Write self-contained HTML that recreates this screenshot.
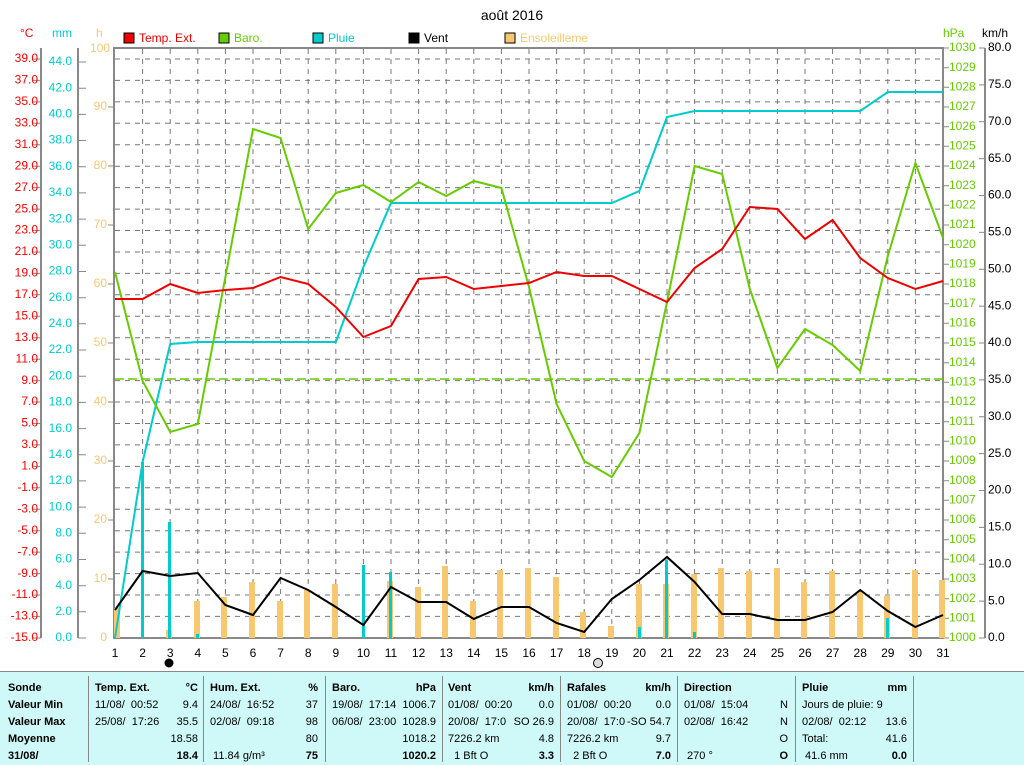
<!DOCTYPE html>
<html><head><meta charset="utf-8"><style>
body{margin:0;background:#fff;width:1024px;height:764px;overflow:hidden;font-family:"Liberation Sans",sans-serif}
svg text{font-family:"Liberation Sans",sans-serif;font-size:12px}
.tb{position:absolute;left:0;top:671px;width:1024px;height:93px;background:#cff8f8;border-top:1px solid #888;font-size:11px}
.c{position:absolute;top:8px;line-height:17px;white-space:pre}
.sep{position:absolute;top:4px;width:1px;height:86px;background:#888}
b{font-weight:bold}
</style></head><body>
<svg width="1024" height="672" style="position:absolute;left:0;top:0">
<text x="512" y="20" text-anchor="middle" style="font-size:14px">août 2016</text>
<g>
<text x="20" y="37" fill="#f00">°C</text><text x="52" y="37" fill="#0cc">mm</text><text x="96" y="37" fill="#f8c870">h</text>
<text x="943" y="37" fill="#6c0">hPa</text><text x="982" y="37" fill="#000">km/h</text>
</g>
<rect x="124" y="33" width="10" height="10" fill="#e00" stroke="#000"/><text x="139" y="42" fill="#e00">Temp. Ext.</text>
<rect x="219" y="33" width="10" height="10" fill="#6c0" stroke="#000"/><text x="234" y="42" fill="#6c0">Baro.</text>
<rect x="313" y="33" width="10" height="10" fill="#0cc" stroke="#000"/><text x="328" y="42" fill="#0cc">Pluie</text>
<rect x="409" y="33" width="10" height="10" fill="#000" stroke="#000"/><text x="424" y="42">Vent</text>
<rect x="505" y="33" width="10" height="10" fill="#f8c870" stroke="#000"/><text x="520" y="42" fill="#f8c870">Ensoleilleme</text>
<g stroke="#888" stroke-width="2" fill="none">
<line x1="41" y1="48" x2="41" y2="638"/><line x1="78" y1="48" x2="78" y2="638"/>
<line x1="985" y1="48" x2="985" y2="638"/>
<rect x="114" y="48" width="829" height="590"/>
</g>
<g stroke="#888" stroke-width="1">
<path d="M33 59h8M33 80.4h8M33 101.9h8M33 123.3h8M33 144.8h8M33 166.2h8M33 187.6h8M33 209.1h8M33 230.5h8M33 252h8M33 273.4h8M33 294.8h8M33 316.3h8M33 337.7h8M33 359.2h8M33 380.6h8M33 402h8M33 423.5h8M33 444.9h8M33 466.4h8M33 487.8h8M33 509.2h8M33 530.7h8M33 552.1h8M33 573.6h8M33 595h8M33 616.4h8M33 638h8"/>
<path d="M78 62h8M78 88.2h8M78 114.4h8M78 140.5h8M78 166.7h8M78 192.9h8M78 219.1h8M78 245.3h8M78 271.5h8M78 297.7h8M78 323.8h8M78 350h8M78 376.2h8M78 402.4h8M78 428.6h8M78 454.8h8M78 480.9h8M78 507.1h8M78 533.3h8M78 559.5h8M78 585.7h8M78 611.8h8M78 638h8"/>
<path d="M943 48h6M943 67.7h6M943 87.3h6M943 107h6M943 126.7h6M943 146.3h6M943 166h6M943 185.7h6M943 205.3h6M943 225h6M943 244.7h6M943 264.3h6M943 284h6M943 303.7h6M943 323.3h6M943 343h6M943 362.7h6M943 382.3h6M943 402h6M943 421.7h6M943 441.3h6M943 461h6M943 480.7h6M943 500.3h6M943 520h6M943 539.7h6M943 559.3h6M943 579h6M943 598.7h6M943 618.3h6M943 638h6"/>
<path d="M979 48h6M979 84.9h6M979 121.8h6M979 158.6h6M979 195.5h6M979 232.4h6M979 269.3h6M979 306.1h6M979 343h6M979 379.9h6M979 416.8h6M979 453.6h6M979 490.5h6M979 527.4h6M979 564.3h6M979 601.1h6M979 638h6"/>
<path d="M108 107h6M108 166h6M108 225h6M108 284h6M108 343h6M108 402h6M108 461h6M108 520h6M108 579h6"/>
</g>
<g stroke="#777" stroke-width="1" stroke-dasharray="5,5">
<path d="M115 59h828M115 80.4h828M115 101.9h828M115 123.3h828M115 144.8h828M115 166.2h828M115 187.6h828M115 209.1h828M115 230.5h828M115 252h828M115 273.4h828M115 294.8h828M115 316.3h828M115 337.7h828M115 359.2h828M115 380.6h828M115 402h828M115 423.5h828M115 444.9h828M115 466.4h828M115 487.8h828M115 509.2h828M115 530.7h828M115 552.1h828M115 573.6h828M115 595h828M115 616.4h828"/>
<path d="M142.6 49v589M170.2 49v589M197.8 49v589M225.4 49v589M253 49v589M280.6 49v589M308.2 49v589M335.8 49v589M363.4 49v589M391 49v589M418.6 49v589M446.2 49v589M473.8 49v589M501.4 49v589M529 49v589M556.6 49v589M584.2 49v589M611.8 49v589M639.4 49v589M667 49v589M694.6 49v589M722.2 49v589M749.8 49v589M777.4 49v589M805 49v589M832.6 49v589M860.2 49v589M887.8 49v589M915.4 49v589"/>
</g>
<g fill="#f00" text-anchor="end" dominant-baseline="middle">
<text x="38" y="59">39.0</text><text x="38" y="80.4">37.0</text><text x="38" y="101.9">35.0</text><text x="38" y="123.3">33.0</text><text x="38" y="144.8">31.0</text><text x="38" y="166.2">29.0</text><text x="38" y="187.6">27.0</text><text x="38" y="209.1">25.0</text><text x="38" y="230.5">23.0</text><text x="38" y="252">21.0</text><text x="38" y="273.4">19.0</text><text x="38" y="294.8">17.0</text><text x="38" y="316.3">15.0</text><text x="38" y="337.7">13.0</text><text x="38" y="359.2">11.0</text><text x="38" y="380.6">9.0</text><text x="38" y="402">7.0</text><text x="38" y="423.5">5.0</text><text x="38" y="444.9">3.0</text><text x="38" y="466.4">1.0</text><text x="38" y="487.8">-1.0</text><text x="38" y="509.2">-3.0</text><text x="38" y="530.7">-5.0</text><text x="38" y="552.1">-7.0</text><text x="38" y="573.6">-9.0</text><text x="38" y="595">-11.0</text><text x="38" y="616.4">-13.0</text><text x="38" y="638">-15.0</text>
</g>
<g fill="#0cc" text-anchor="end" dominant-baseline="middle">
<text x="72" y="62">44.0</text><text x="72" y="88.2">42.0</text><text x="72" y="114.4">40.0</text><text x="72" y="140.5">38.0</text><text x="72" y="166.7">36.0</text><text x="72" y="192.9">34.0</text><text x="72" y="219.1">32.0</text><text x="72" y="245.3">30.0</text><text x="72" y="271.5">28.0</text><text x="72" y="297.7">26.0</text><text x="72" y="323.8">24.0</text><text x="72" y="350">22.0</text><text x="72" y="376.2">20.0</text><text x="72" y="402.4">18.0</text><text x="72" y="428.6">16.0</text><text x="72" y="454.8">14.0</text><text x="72" y="480.9">12.0</text><text x="72" y="507.1">10.0</text><text x="72" y="533.3">8.0</text><text x="72" y="559.5">6.0</text><text x="72" y="585.7">4.0</text><text x="72" y="611.8">2.0</text><text x="72" y="638">0.0</text>
</g>
<g fill="#f8c870" text-anchor="end" dominant-baseline="middle">
<text x="110" y="49">100</text><text x="107" y="107">90</text><text x="107" y="166">80</text><text x="107" y="225">70</text><text x="107" y="284">60</text><text x="107" y="343">50</text><text x="107" y="402">40</text><text x="107" y="461">30</text><text x="107" y="520">20</text><text x="107" y="579">10</text><text x="107" y="638">0</text>
</g>
<g fill="#6c0" dominant-baseline="middle">
<text x="949" y="48">1030</text><text x="949" y="67.7">1029</text><text x="949" y="87.3">1028</text><text x="949" y="107">1027</text><text x="949" y="126.7">1026</text><text x="949" y="146.3">1025</text><text x="949" y="166">1024</text><text x="949" y="185.7">1023</text><text x="949" y="205.3">1022</text><text x="949" y="225">1021</text><text x="949" y="244.7">1020</text><text x="949" y="264.3">1019</text><text x="949" y="284">1018</text><text x="949" y="303.7">1017</text><text x="949" y="323.3">1016</text><text x="949" y="343">1015</text><text x="949" y="362.7">1014</text><text x="949" y="382.3">1013</text><text x="949" y="402">1012</text><text x="949" y="421.7">1011</text><text x="949" y="441.3">1010</text><text x="949" y="461">1009</text><text x="949" y="480.7">1008</text><text x="949" y="500.3">1007</text><text x="949" y="520">1006</text><text x="949" y="539.7">1005</text><text x="949" y="559.3">1004</text><text x="949" y="579">1003</text><text x="949" y="598.7">1002</text><text x="949" y="618.3">1001</text><text x="949" y="638">1000</text>
</g>
<g fill="#000" dominant-baseline="middle">
<text x="988" y="48">80.0</text><text x="988" y="84.9">75.0</text><text x="988" y="121.8">70.0</text><text x="988" y="158.6">65.0</text><text x="988" y="195.5">60.0</text><text x="988" y="232.4">55.0</text><text x="988" y="269.3">50.0</text><text x="988" y="306.1">45.0</text><text x="988" y="343">40.0</text><text x="988" y="379.9">35.0</text><text x="988" y="416.8">30.0</text><text x="988" y="453.6">25.0</text><text x="988" y="490.5">20.0</text><text x="988" y="527.4">15.0</text><text x="988" y="564.3">10.0</text><text x="988" y="601.1">5.0</text><text x="988" y="638">0.0</text>
</g>
<g text-anchor="middle" fill="#000">
<text x="115" y="657">1</text><text x="142.6" y="657">2</text><text x="170.2" y="657">3</text><text x="197.8" y="657">4</text><text x="225.4" y="657">5</text><text x="253" y="657">6</text><text x="280.6" y="657">7</text><text x="308.2" y="657">8</text><text x="335.8" y="657">9</text><text x="363.4" y="657">10</text><text x="391" y="657">11</text><text x="418.6" y="657">12</text><text x="446.2" y="657">13</text><text x="473.8" y="657">14</text><text x="501.4" y="657">15</text><text x="529" y="657">16</text><text x="556.6" y="657">17</text><text x="584.2" y="657">18</text><text x="611.8" y="657">19</text><text x="639.4" y="657">20</text><text x="667" y="657">21</text><text x="694.6" y="657">22</text><text x="722.2" y="657">23</text><text x="749.8" y="657">24</text><text x="777.4" y="657">25</text><text x="805" y="657">26</text><text x="832.6" y="657">27</text><text x="860.2" y="657">28</text><text x="887.8" y="657">29</text><text x="915.4" y="657">30</text><text x="943" y="657">31</text>
</g>
<circle cx="169" cy="663" r="4.5" fill="#000"/><circle cx="598" cy="663" r="4.5" fill="#ddd" stroke="#000"/>
<g fill="#f8c870">
<rect x="114" y="608" width="6" height="30"/><rect x="166" y="630" width="6" height="8"/><rect x="194" y="601" width="6" height="37"/><rect x="221" y="597" width="6" height="41"/><rect x="249" y="582" width="6" height="56"/><rect x="277" y="601" width="6" height="37"/><rect x="304" y="590" width="6" height="48"/><rect x="332" y="584" width="6" height="54"/><rect x="387" y="581" width="6" height="57"/><rect x="415" y="587" width="6" height="51"/><rect x="442" y="566" width="6" height="72"/><rect x="470" y="601" width="6" height="37"/><rect x="497" y="570" width="6" height="68"/><rect x="525" y="568" width="6" height="70"/><rect x="553" y="577" width="6" height="61"/><rect x="580" y="612" width="6" height="26"/><rect x="608" y="626" width="6" height="12"/><rect x="636" y="584" width="6" height="54"/><rect x="663" y="584" width="6" height="54"/><rect x="691" y="574" width="6" height="64"/><rect x="718" y="568" width="6" height="70"/><rect x="746" y="571" width="6" height="67"/><rect x="774" y="568" width="6" height="70"/><rect x="801" y="582" width="6" height="56"/><rect x="829" y="571" width="6" height="67"/><rect x="857" y="592" width="6" height="46"/><rect x="884" y="596" width="6" height="42"/><rect x="912" y="570" width="6" height="68"/><rect x="939" y="580" width="6" height="58"/>
</g>
<g fill="#0cc">
<rect x="141" y="462" width="3" height="176"/><rect x="168" y="522" width="3" height="116"/><rect x="196" y="634" width="3" height="4"/><rect x="362" y="565" width="3" height="73"/><rect x="389" y="572" width="3" height="66"/><rect x="638" y="627" width="3" height="11"/><rect x="665" y="560" width="3" height="78"/><rect x="693" y="632" width="3" height="6"/><rect x="886" y="618" width="3" height="20"/>
</g>
<line x1="115" y1="379" x2="943" y2="379" stroke="#6c0" stroke-width="1.5" stroke-dasharray="9,4"/>
<g fill="none" stroke-width="2">
<polyline stroke="#0cc" points="115,638 142.6,462 170.2,344 197.8,342 225.4,342 253,342 280.6,342 308.2,342 335.8,342 363.4,267 391,203 418.6,203 446.2,203 473.8,203 501.4,203 529,203 556.6,203 584.2,203 611.8,203 639.4,191 667,117 694.6,111 722.2,111 749.8,111 777.4,111 805,111 832.6,111 860.2,111 887.8,92 915.4,92 943,92"/>
<polyline stroke="#6c0" points="115,272 142.6,381 170.2,432 197.8,424 225.4,277 253,129 280.6,138 308.2,229 335.8,193 363.4,185 391,202 418.6,182 446.2,196 473.8,181 501.4,188 529,287 556.6,404 584.2,461 611.8,477 639.4,433 667,302 694.6,166 722.2,174 749.8,289 777.4,368 805,329 832.6,345 860.2,371 887.8,256 915.4,163 943,238"/>
<polyline stroke="#e00" points="115,299 142.6,299 170.2,284 197.8,293 225.4,290 253,288 280.6,277 308.2,284 335.8,307 363.4,337 391,326 418.6,279 446.2,277 473.8,289 501.4,286 529,283 556.6,272 584.2,276 611.8,276 639.4,289 667,302 694.6,268 722.2,249 749.8,207 777.4,209 805,239 832.6,220 860.2,258 887.8,278 915.4,289 943,281"/>
<polyline stroke="#000" points="115,610 142.6,571 170.2,576 197.8,573 225.4,605 253,615 280.6,578 308.2,590 335.8,607 363.4,625 391,587 418.6,602 446.2,602 473.8,619 501.4,607 529,607 556.6,623 584.2,632 611.8,599 639.4,580 667,557 694.6,582 722.2,614 749.8,614 777.4,620 805,620 832.6,612 860.2,590 887.8,611 915.4,627 943,615"/>
</g>
</svg>
<div class="tb">
<div class="sep" style="left:88px"></div><div class="sep" style="left:203px"></div><div class="sep" style="left:325px"></div><div class="sep" style="left:442px"></div><div class="sep" style="left:560px"></div><div class="sep" style="left:677px"></div><div class="sep" style="left:795px"></div><div class="sep" style="left:913px"></div>
<div class="c" style="left:8px"><b>Sonde
Valeur Min
Valeur Max
Moyenne
31/08/</b></div>
<div class="c" style="left:95px"><b>Temp. Ext.</b>
11/08/  00:52
25/08/  17:26</div>
<div class="c" style="left:150px;width:48px;text-align:right"><b>°C</b>
9.4
35.5
18.58
<b>18.4</b></div>
<div class="c" style="left:210px"><b>Hum. Ext.</b>
24/08/  16:52
02/08/  09:18

 11.84 g/m³</div>
<div class="c" style="left:280px;width:38px;text-align:right"><b>%</b>
37
98
80
<b>75</b></div>
<div class="c" style="left:332px"><b>Baro.</b>
19/08/  17:14
06/08/  23:00</div>
<div class="c" style="left:380px;width:56px;text-align:right"><b>hPa</b>
1006.7
1028.9
1018.2
<b>1020.2</b></div>
<div class="c" style="left:448px"><b>Vent</b>
01/08/  00:20
20/08/  17:0
7226.2 km
  1 Bft O</div>
<div class="c" style="left:500px;width:54px;text-align:right"><b>km/h</b>
0.0
SO 26.9
4.8
<b>3.3</b></div>
<div class="c" style="left:567px"><b>Rafales</b>
01/08/  00:20
20/08/  17:0
7226.2 km
  2 Bft O</div>
<div class="c" style="left:615px;width:56px;text-align:right"><b>km/h</b>
0.0
-SO 54.7
9.7
<b>7.0</b></div>
<div class="c" style="left:684px"><b>Direction</b>
01/08/  15:04
02/08/  16:42

 270 °</div>
<div class="c" style="left:760px;width:28px;text-align:right">
N
N
O
<b>O</b></div>
<div class="c" style="left:802px"><b>Pluie</b>
Jours de pluie: 9
02/08/  02:12
Total:
 41.6 mm</div>
<div class="c" style="left:860px;width:47px;text-align:right"><b>mm</b>

13.6
41.6
<b>0.0</b></div>
</div>
</body></html>
